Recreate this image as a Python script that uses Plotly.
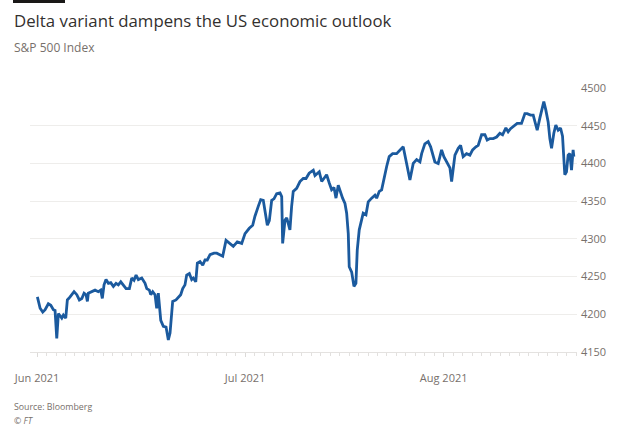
import plotly.graph_objects as go

# Trading sessions since 1 Jun 2021 (fractional = intraday), S&P 500 level
session = [0.03, 0.32, 0.60, 0.85, 1.19, 1.45, 1.72, 1.90, 2.08, 2.25, 2.61, 2.78, 3.03, 3.20, 3.49, 3.91,
           4.20, 4.47, 4.73, 4.97, 5.18, 5.32, 5.42, 5.78, 6.13, 6.48, 6.73, 6.90, 7.08, 7.29, 7.54, 7.79,
           8.07, 8.35, 8.59, 8.85, 9.12, 9.41, 9.76, 10.01, 10.25, 10.47, 10.71, 11.07, 11.42, 11.60, 11.87,
           12.02, 12.23, 12.47, 12.65, 12.82, 13.08, 13.35, 13.64, 13.88, 14.06, 14.34, 14.69, 14.94, 15.19,
           15.40, 15.64, 15.82, 16.10, 16.35, 16.52, 16.78, 16.95, 17.23, 17.52, 17.76, 18.00, 18.29, 18.71,
           19.00, 19.34, 19.63, 19.98, 20.40, 20.75, 21.17, 21.64, 21.99, 22.44, 22.80, 23.04, 23.39, 23.65,
           23.92, 24.10, 24.35, 24.56, 24.81, 25.05, 25.34, 25.69, 25.87, 25.97, 26.22, 26.40, 26.56, 26.74,
           26.92, 27.09, 27.45, 27.80, 28.15, 28.44, 28.77, 29.04, 29.21, 29.39, 29.63, 29.84, 30.10, 30.34,
           30.62, 30.90, 31.15, 31.40, 31.61, 31.85, 32.03, 32.31, 32.56, 32.74, 32.91, 33.01, 33.27, 33.51,
           33.72, 33.86, 34.07, 34.32, 34.49, 34.78, 35.02, 35.38, 35.73, 35.91, 36.19, 36.44, 36.68, 36.97,
           37.24, 37.60, 38.02, 38.37, 38.72, 39.08, 39.43, 39.78, 40.14, 40.49, 40.67, 41.01, 41.36, 41.62,
           41.83, 42.07, 42.42, 42.78, 43.02, 43.31, 43.66, 43.84, 44.19, 44.54, 44.79, 45.06, 45.42, 45.77,
           46.06, 46.41, 46.65, 47.01, 47.36, 47.60, 47.89, 48.24, 48.60, 48.94, 49.23, 49.58, 49.82, 50.07,
           50.42, 50.77, 51.23, 51.59, 51.83, 52.19, 52.47, 52.75, 52.89, 53.17, 53.35, 53.59, 53.80, 54.05,
           54.23, 54.41, 54.65, 54.86, 55.11, 55.36, 55.57, 55.71, 55.81, 55.99, 56.16, 56.34, 56.52, 56.69,
           56.77]
level = [4223, 4208, 4203, 4206, 4214, 4212, 4206, 4205, 4168, 4201, 4195, 4199, 4195, 4219, 4223, 4230,
         4226, 4219, 4221, 4228, 4226, 4217, 4228, 4230, 4232, 4230, 4232, 4221, 4239, 4246, 4241, 4242,
         4237, 4241, 4239, 4243, 4239, 4234, 4234, 4248, 4245, 4252, 4246, 4248, 4241, 4234, 4232,
         4226, 4230, 4226, 4208, 4228, 4192, 4184, 4183, 4166, 4175, 4217, 4219, 4223, 4226,
         4234, 4239, 4252, 4254, 4246, 4248, 4243, 4268, 4270, 4265, 4272, 4272, 4279, 4281,
         4281, 4279, 4277, 4298, 4294, 4290, 4296, 4294, 4307, 4314, 4318, 4330, 4343, 4352,
         4351, 4338, 4318, 4324, 4351, 4353, 4360, 4361, 4356, 4294, 4325, 4328, 4321, 4312,
         4343, 4363, 4367, 4376, 4380, 4380, 4387, 4389, 4391, 4384, 4387, 4389, 4376, 4380,
         4385, 4374, 4365, 4368, 4354, 4371, 4364, 4354, 4347, 4334, 4307, 4263, 4256, 4237,
         4241, 4285, 4312, 4325, 4334, 4332, 4349, 4354, 4358, 4354, 4363, 4365, 4380, 4396,
         4409, 4413, 4413, 4418, 4422, 4400, 4378, 4400, 4405, 4402, 4413, 4426, 4429, 4422,
         4413, 4402, 4400, 4418, 4409, 4402, 4394, 4376, 4411, 4420, 4424, 4409, 4413, 4411,
         4418, 4422, 4424, 4438, 4438, 4431, 4433, 4433, 4435, 4440, 4438, 4447, 4442, 4446,
         4449, 4453, 4453, 4466, 4466, 4464, 4464, 4451, 4444, 4460, 4469, 4482, 4471, 4455,
         4433, 4420, 4440, 4451, 4444, 4447, 4436, 4411, 4385, 4389, 4411, 4413, 4391, 4418,
         4409]

month_sessions = [0, 22, 43]
month_labels = ["Jun 2021", "Jul 2021", "Aug 2021"]
y_ticks = [4150, 4200, 4250, 4300, 4350, 4400, 4450, 4500]

FONT = "Open Sans, Noto Sans, sans-serif"
GREY = "#77706b"

fig = go.Figure()
fig.add_trace(go.Scatter(
    x=session, y=level, mode="lines",
    line=dict(color="#1b5a9e", width=2.8),
    hoverinfo="skip", showlegend=False,
))

L, R, T, B = 30, 48, 88, 76
W, H = 625, 428
pw, ph = W - L - R, H - T - B

def px(x):
    return (x - L) / pw

def py(y):
    return (H - B - y) / ph

fig.update_layout(
    width=W, height=H,
    margin=dict(l=L, r=R, t=T, b=B),
    paper_bgcolor="white", plot_bgcolor="white",
    font=dict(family=FONT, color=GREY, size=10),
    xaxis=dict(
        range=[-0.75, 57.1],
        tickmode="array", tickvals=month_sessions, ticktext=month_labels,
        showgrid=False, zeroline=False,
        showline=True, linecolor="#e4e2e0", linewidth=1,
        ticks="outside", ticklen=4, tickcolor="#dcdad8",
        ticklabelstandoff=12,
        minor=dict(dtick=1, tick0=0, ticks="outside", ticklen=3, tickcolor="#e2e0de", showgrid=False),
        tickfont=dict(size=11, color=GREY),
    ),
    yaxis=dict(
        range=[4150, 4500], side="right",
        tickmode="array", tickvals=y_ticks,
        showgrid=True, gridcolor="#eeedeb", gridwidth=1,
        zeroline=False, showline=False, ticks="",
        ticklabelstandoff=3,
        tickfont=dict(size=11, color=GREY),
    ),
    annotations=[
        dict(text="Delta variant dampens the US economic outlook", x=px(12), y=py(20),
             xref="paper", yref="paper", xanchor="left", yanchor="middle", showarrow=False,
             font=dict(family=FONT, size=16.8, color="#33302e")),
        dict(text="S&P 500 Index", x=px(12), y=py(47),
             xref="paper", yref="paper", xanchor="left", yanchor="middle", showarrow=False,
             font=dict(family=FONT, size=12, color=GREY)),
        dict(text="Source: Bloomberg", x=px(12), y=py(407),
             xref="paper", yref="paper", xanchor="left", yanchor="middle", showarrow=False,
             font=dict(family=FONT, size=8.8, color=GREY)),
        dict(text="<i>© FT</i>", x=px(12), y=py(421),
             xref="paper", yref="paper", xanchor="left", yanchor="middle", showarrow=False,
             font=dict(family=FONT, size=8.8, color=GREY)),
    ],
    shapes=[
        dict(type="rect", xref="paper", yref="paper",
             x0=px(13), x1=px(65), y0=py(3), y1=py(-1),
             fillcolor="#1a1817", line=dict(width=0)),
    ],
)

fig.write_html("out.html")
